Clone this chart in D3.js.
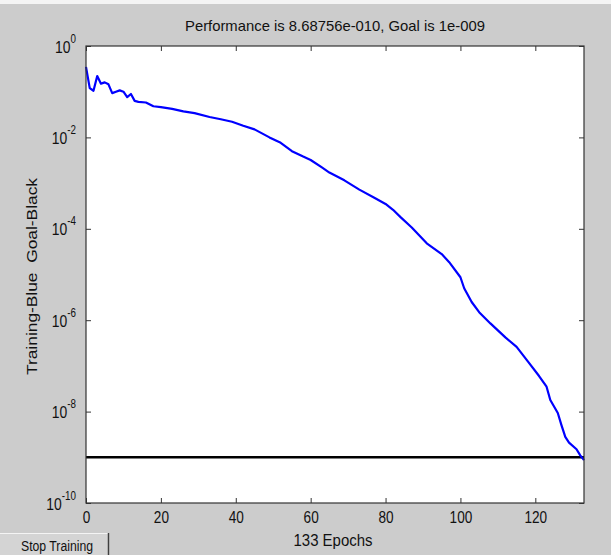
<!DOCTYPE html>
<html>
<head>
<meta charset="utf-8">
<script src="https://cdn.jsdelivr.net/npm/d3@7"></script>
<style>
    body { margin: 0; background: #cccccc; }
    svg { display: block; }
    text { font-family: "Liberation Sans", Arial, sans-serif; fill: #111; }
</style>
</head>
<body>
<div id="chart"></div>
<script>
// epochs
let epochs = [0, 1, 2, 3, 4, 5, 6, 7, 8, 9, 10, 11, 12, 13, 14, 16, 18, 20, 23, 26, 29, 33, 36, 39,
    42, 45, 49, 52, 55, 58, 60, 63, 65, 69, 73, 77, 80, 82, 84, 87, 91, 95, 97, 100, 101, 103,
    105, 108, 112, 115, 118, 121, 123, 124, 126, 127, 128, 129, 131, 132, 133];

// training performance (mse) at those epochs
let performance = [3.5e-1, 1.2e-1, 1.05e-1, 2.2e-1, 1.5e-1, 1.6e-1, 1.45e-1, 9.3e-2, 1.0e-1, 1.07e-1,
    1.0e-1, 7.6e-2, 8.9e-2, 6.3e-2, 6.0e-2, 5.8e-2, 4.8e-2, 4.6e-2, 4.2e-2, 3.7e-2, 3.4e-2,
    2.8e-2, 2.5e-2, 2.2e-2, 1.8e-2, 1.5e-2, 1.0e-2, 7.6e-3, 5.0e-3, 3.8e-3, 3.2e-3, 2.2e-3,
    1.7e-3, 1.15e-3, 7.2e-4, 4.8e-4, 3.5e-4, 2.6e-4, 1.8e-4, 1.07e-4, 4.8e-5, 2.8e-5, 1.86e-5,
    8.7e-6, 5.0e-6, 2.5e-6, 1.5e-6, 8.5e-7, 4.2e-7, 2.6e-7, 1.26e-7, 6.0e-8, 3.5e-8, 1.8e-8,
    9.3e-9, 5.0e-9, 2.8e-9, 2.1e-9, 1.5e-9, 1.1e-9, 8.68756e-10];

let goal = 1e-9;
let xTicks = [0, 20, 40, 60, 80, 100, 120];
let yTicks = [1, 1e-2, 1e-4, 1e-6, 1e-8, 1e-10];
let yExponents = ["0", "-2", "-4", "-6", "-8", "-10"];

//set svg size and plot box
let w = 611;
let h = 555;
let padLeft = 86, padRight = 584, padTop = 46, padBottom = 503;

let svg = d3.select("#chart")
            .append("svg")
            .attr("width", w)
            .attr("height", h);

svg.append("rect")
    .attr("width", w)
    .attr("height", h)
    .attr("fill", "#cccccc");

//thin light strip along the top edge
svg.append("rect")
    .attr("width", w)
    .attr("height", 4)
    .attr("fill", "#f4f4f4");

let xScale = d3.scaleLinear()
                .domain([0, 133])
                .range([padLeft, padRight]);

let yScale = d3.scaleLog()
                .domain([1e-10, 1])
                .range([padBottom, padTop]);

//white plot area
svg.append("rect")
    .attr("x", padLeft)
    .attr("y", padTop)
    .attr("width", padRight - padLeft)
    .attr("height", padBottom - padTop)
    .attr("fill", "#ffffff");

//goal line
svg.append("line")
    .attr("x1", xScale(0))
    .attr("x2", xScale(133))
    .attr("y1", yScale(goal))
    .attr("y2", yScale(goal))
    .attr("stroke", "#000")
    .attr("stroke-width", 2.5);

//training curve
let line = d3.line()
                .x((d, i) => xScale(epochs[i]))
                .y(d => yScale(d));

svg.append("path")
    .datum(performance)
    .attr("d", line)
    .attr("fill", "none")
    .attr("stroke", "#0000ff")
    .attr("stroke-width", 2.2)
    .attr("stroke-linejoin", "round");

//axes, ticks point inward
let xAxis = d3.axisBottom(xScale).tickValues(xTicks).tickSizeInner(-5).tickSizeOuter(0).tickPadding(8);
let xTop = d3.axisTop(xScale).tickValues(xTicks).tickSizeInner(-5).tickSizeOuter(0).tickFormat("");
let yAxis = d3.axisLeft(yScale).tickValues(yTicks).tickSizeInner(-5).tickSizeOuter(0).tickFormat("");
let yRight = d3.axisRight(yScale).tickValues(yTicks).tickSizeInner(-5).tickSizeOuter(0).tickFormat("");

let gx = svg.append("g")
            .attr("transform", `translate(0, ${padBottom})`)
            .call(xAxis);

gx.selectAll("text")
    .attr("font-size", "17px")
    .attr("fill", "#111")
    .attr("transform", "scale(0.8, 1)");

svg.append("g").attr("transform", `translate(0, ${padTop})`).call(xTop);

let gy = svg.append("g")
            .attr("transform", `translate(${padLeft}, 0)`)
            .call(yAxis);

svg.append("g").attr("transform", `translate(${padRight}, 0)`).call(yRight);

//y labels as 10 with a raised exponent
gy.selectAll(".tick text").remove();
gy.selectAll(".tick")
    .append("text")
    .attr("text-anchor", "end")
    .attr("transform", "scale(0.82, 1)")
    .attr("x", -10 / 0.82)
    .attr("y", 6)
    .attr("font-size", "17px")
    .attr("fill", "#111")
    .each(function(d, i) {
        let t = d3.select(this);
        t.append("tspan").text("10");
        t.append("tspan")
            .attr("dy", -10)
            .attr("font-size", "12px")
            .text(yExponents[i]);
    });

svg.selectAll(".domain").remove();
svg.selectAll(".tick line").attr("stroke", "#333");

//plot frame
svg.append("rect")
    .attr("x", padLeft)
    .attr("y", padTop)
    .attr("width", padRight - padLeft)
    .attr("height", padBottom - padTop)
    .attr("fill", "none")
    .attr("stroke", "#333")
    .attr("stroke-width", 1.2);

//title and axis labels
svg.append("text")
    .attr("x", (padLeft + padRight) / 2)
    .attr("y", 31)
    .attr("text-anchor", "middle")
    .attr("font-size", "15px")
    .attr("textLength", 300)
    .attr("lengthAdjust", "spacingAndGlyphs")
    .text("Performance is 8.68756e-010, Goal is 1e-009");

svg.append("text")
    .attr("x", (padLeft + padRight) / 2 - 2)
    .attr("y", 546)
    .attr("text-anchor", "middle")
    .attr("font-size", "16px")
    .attr("textLength", 79)
    .attr("lengthAdjust", "spacingAndGlyphs")
    .text("133 Epochs");

svg.append("text")
    .attr("transform", `translate(37, ${(padTop + padBottom) / 2 + 2}) rotate(-90)`)
    .attr("text-anchor", "middle")
    .attr("font-size", "15px")
    .attr("textLength", 197)
    .attr("lengthAdjust", "spacingAndGlyphs")
    .style("white-space", "pre")
    .text("Training-Blue  Goal-Black");

//stop training button
let btn = svg.append("g").attr("transform", "translate(0, 533)");

btn.append("rect")
    .attr("width", 110)
    .attr("height", 22)
    .attr("fill", "#d4d4d4");

btn.append("path")
    .attr("d", "M0,0.5 H108.5")
    .attr("stroke", "#f4f4f4")
    .attr("fill", "none");

btn.append("path")
    .attr("d", "M108.5,0 V22")
    .attr("stroke", "#404040")
    .attr("stroke-width", 1.5)
    .attr("fill", "none");

btn.append("text")
    .attr("x", 21)
    .attr("y", 18)
    .attr("font-size", "14px")
    .attr("textLength", 72)
    .attr("lengthAdjust", "spacingAndGlyphs")
    .text("Stop Training");
</script>
</body>
</html>
